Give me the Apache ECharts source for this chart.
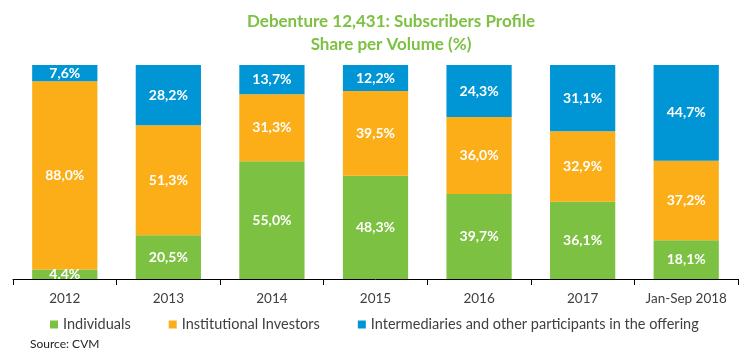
<!DOCTYPE html>
<html><head><meta charset="utf-8">
<script src="https://cdn.jsdelivr.net/npm/echarts@6/dist/echarts.min.js"></script>
<style>html,body{margin:0;padding:0;background:#fff}#c{width:750px;height:357px}</style>
</head><body><div id="c"></div>
<script>
const categories = ['2012','2013','2014','2015','2016','2017','Jan-Sep 2018'];
const individuals = [4.4, 20.5, 55.0, 48.3, 39.7, 36.1, 18.1];
const institutional = [88.0, 51.3, 31.3, 39.5, 36.0, 32.9, 37.2];
const intermediaries = [7.6, 28.2, 13.7, 12.2, 24.3, 31.1, 44.7];
const seriesNames = ['Individuals','Institutional Investors','Intermediaries and other participants in the offering'];
const colors = ['#7DC142','#FBAE17','#0096D6'];
const FONT = 'Lato, "Open Sans", sans-serif';

function fmt(v, i, s){
  const t = v.toFixed(1);
  return (s===0 && i===0) ? t + '%' : t.replace('.', ',') + '%';
}
const chart = echarts.init(document.getElementById('c'));
const dataSets = [individuals, institutional, intermediaries];
chart.setOption({
  animation:false,
  textStyle:{fontFamily:FONT},
  title:{
    text:'Debenture 12,431: Subscribers Profile\nShare per Volume (%)',
    left:386, textAlign:'center', top:5,
    textStyle:{color:'#7DC142', fontSize:17, fontWeight:'bold', lineHeight:23, fontFamily:FONT}
  },
  legend:{
    left:45, top:312, itemWidth:8, itemHeight:8, itemGap:38, icon:'rect',
    textStyle:{color:'#404040', fontSize:14.5, fontFamily:FONT, padding:[0,0,0,0]},
    data:seriesNames
  },
  graphic:[{type:'text', left:30, top:338, style:{text:'Source: CVM', fill:'#222', fontSize:12, fontFamily:FONT}}],
  grid:{left:13, right:12, top:65, bottom:78, containLabel:false},
  xAxis:{
    type:'category', data:categories,
    axisLine:{lineStyle:{color:'#000', width:1}},
    axisTick:{show:true, length:6, lineStyle:{color:'#000'}},
    axisLabel:{color:'#404040', fontSize:13.5, margin:13, fontFamily:FONT, interval:0}
  },
  yAxis:{type:'value', min:0, max:100, show:false, splitLine:{show:false}},
  series: dataSets.map((d, s) => ({
    name:seriesNames[s], type:'bar', stack:'a', barCategoryGap:'37%',
    itemStyle:{color:colors[s]},
    data:d,
    label:{show:true, position:'inside',
      color:'#fff', fontWeight:'bold', fontSize:14, fontFamily:FONT,
      formatter:p => fmt(p.value, p.dataIndex, s)}
  }))
});
</script></body></html>
